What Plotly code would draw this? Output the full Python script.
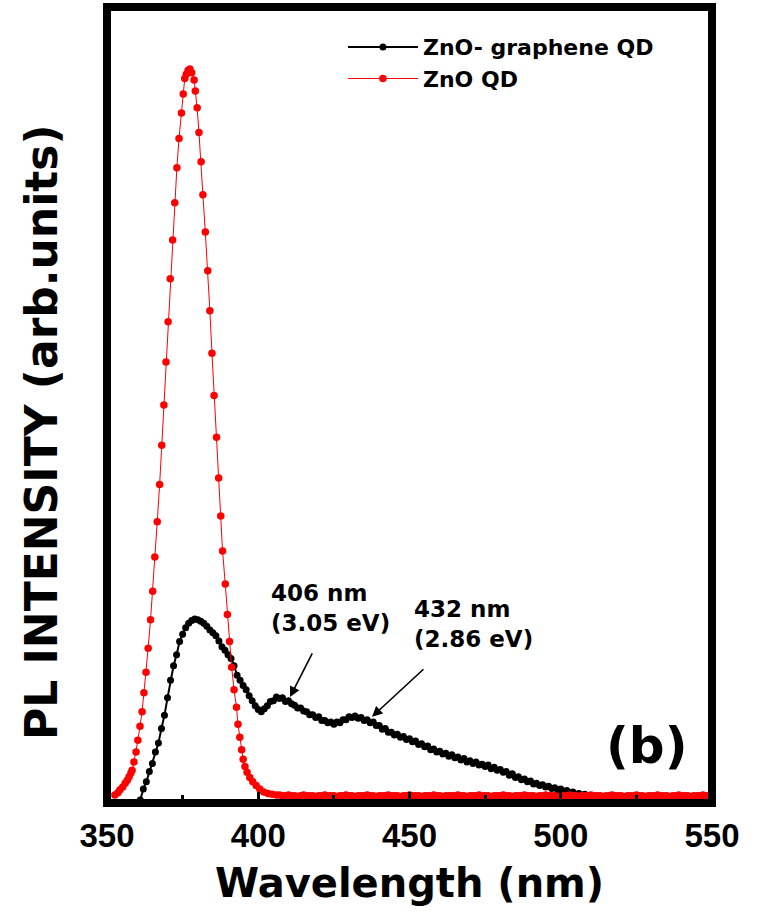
import plotly.graph_objects as go

# ---------------- ZnO QD photoluminescence ----------------
zno_peak_wl = [352.6, 353.6, 354.3, 355.2, 356.0, 356.7, 357.3, 357.9, 358.3, 358.9,
               359.6, 360.2, 360.9, 361.6, 362.2, 362.9, 363.6, 364.4, 365.1, 365.8,
               366.6, 367.4, 368.1, 368.8, 369.5, 370.2, 370.9, 371.7, 372.4, 373.1,
               373.8, 374.6, 375.2, 375.7, 376.2, 376.8, 377.4, 378.0, 378.8, 379.2,
               379.8, 380.4, 381.1, 381.7, 382.5, 383.3, 384.0, 384.7, 385.4, 386.2,
               386.9, 387.6, 388.2, 389.1, 389.8, 390.5, 391.2, 392.0, 392.8, 393.3,
               393.9, 394.5, 395.0, 395.6, 396.3, 397.2, 398.2, 399.3, 400.5, 401.8,
               403.2, 404.6, 406.0]
zno_peak_pl = [11, 14, 18, 22, 27, 31, 36, 41, 45, 56,
               70, 86, 105, 125, 151, 179, 212, 251, 290, 337,
               385, 436, 490, 545, 604, 659, 718, 771, 822, 870,
               910, 945, 971, 992, 998, 1003, 1005, 1000, 990, 975,
               952, 918, 878, 833, 782, 729, 674, 616, 558, 501,
               445, 393, 345, 300, 258, 221, 186, 155, 131, 108,
               90, 73, 60, 50, 42, 35, 29, 24, 19, 15,
               13, 12, 11]

# flat emission tail, 407-550 nm in 1 nm steps
zno_tail_wl = list(range(407, 551))
zno_tail_pl = [11, 10, 10, 11, 10, 10, 9, 10, 11, 10, 10, 10, 9, 10, 10, 11, 10, 10, 10, 9,
               10, 10, 11, 10, 10, 9, 10, 10, 10, 11, 10, 10, 9, 10, 10, 10, 11, 10, 10, 10,
               9, 10, 10, 11, 10, 10, 10, 9, 10, 10, 10, 11, 10, 10, 9, 10, 10, 10, 10, 11,
               10, 10, 9, 10, 10, 10, 11, 10, 10, 10, 9, 10, 10, 10, 11, 10, 10, 9, 10, 10,
               10, 11, 10, 10, 10, 9, 10, 10, 11, 10, 10, 10, 9, 10, 10, 10, 11, 10, 10, 9,
               10, 10, 10, 11, 10, 10, 10, 9, 10, 10, 11, 10, 10, 10, 9, 10, 10, 10, 11, 10,
               10, 9, 10, 10, 10, 11, 10, 10, 10, 9, 10, 10, 11, 10, 10, 10, 9, 10, 10, 10,
               11, 10, 10, 10]

zno_wl = zno_peak_wl + zno_tail_wl
zno_pl = zno_peak_pl + zno_tail_pl

# ---------------- ZnO-graphene QD photoluminescence (361-550 nm) ----------------
zg_wl = list(range(361, 551))
zg_pl = [4, 19, 29, 43, 54, 70, 82, 102, 120, 144,
         168, 188, 203, 221, 231, 240, 246, 250, 252, 251,
         249, 246, 242, 237, 233, 229, 222, 214, 209, 203,
         198, 188, 175, 168, 161, 155, 147, 140, 133,
         128, 125, 129, 133, 139, 140, 145, 143, 144, 139,
         140, 136, 134, 130, 130, 126, 125, 121, 121, 117,
         118, 113, 113, 110, 111, 108, 111, 110, 114, 114,
         118, 117, 119, 116, 117, 113, 114, 110, 111, 106,
         106, 101, 102, 97, 97, 93, 94, 90, 91, 87,
         88, 84, 85, 80, 81, 77, 78, 73, 74, 70,
         71, 67, 68, 64, 66, 62, 63, 59, 61, 56,
         58, 54, 56, 52, 53, 50, 52, 47, 49, 45,
         46, 42, 43, 38, 40, 35, 36, 32, 33, 29,
         30, 26, 27, 24, 25, 22, 23, 20, 21, 18,
         19, 16, 17, 14, 15, 12, 13, 11, 12, 10,
         10, 9, 8, 7, 6, 5,
         4, 4, 3, 4, 3, 3, 4, 3, 2, 3,
         3, 2, 3, 2, 3, 2, 2, 3, 2, 2,
         3, 2, 2, 2, 3, 2, 2, 2, 2, 2,
         2, 2, 2, 2, 2]

x_ticks = [350, 400, 450, 500, 550]

# ---------------- annotations ----------------
peak_labels = ["406 nm<br>(3.05 eV)", "432 nm<br>(2.86 eV)"]
peak_label_pos = [(403.6, 308), (450.8, 286)]
arrow_tips = [(410.5, 145), (437.6, 118)]
arrow_tails = [(418.1, 207), (455.1, 185)]

FONT = "DejaVu Sans"
TICK_FONT = "Liberation Sans"

fig = go.Figure()

fig.add_trace(go.Scatter(
    x=zg_wl, y=zg_pl, name="ZnO- graphene QD", mode="lines+markers",
    line=dict(color="black", width=2),
    marker=dict(color="black", size=7, symbol="circle"),
))
fig.add_trace(go.Scatter(
    x=zno_wl, y=zno_pl, name="ZnO QD", mode="lines+markers",
    line=dict(color="#ff0000", width=1),
    marker=dict(color="#ff0000", size=7.5, symbol="circle"),
))

annotations = []
for txt, (ax_, ay_) in zip(peak_labels, peak_label_pos):
    annotations.append(dict(
        x=ax_, y=ay_, xref="x", yref="y", text=txt, showarrow=False,
        xanchor="left", yanchor="top", align="left",
        font=dict(family=FONT, size=23, color="black", weight="bold"),
    ))
for (tx, ty), (sx, sy) in zip(arrow_tips, arrow_tails):
    annotations.append(dict(
        x=tx, y=ty, ax=sx, ay=sy, xref="x", yref="y", axref="x", ayref="y",
        text="", showarrow=True, arrowhead=2, arrowsize=1.3, arrowwidth=1.6,
        arrowcolor="black", standoff=0, startstandoff=0,
    ))
annotations.append(dict(
    x=528.5, y=78, xref="x", yref="y", text="(b)", showarrow=False,
    xanchor="center", yanchor="middle",
    font=dict(family=FONT, size=50, color="black", weight="bold"),
))
annotations.append(dict(
    x=-0.109, y=0.466, xref="paper", yref="paper", text="PL INTENSITY (arb.units)",
    textangle=-90, showarrow=False, xanchor="center", yanchor="middle",
    font=dict(family=FONT, size=44, color="black", weight="bold"),
))
annotations.append(dict(
    x=0.5, y=-0.1, xref="paper", yref="paper", text="Wavelength (nm)",
    showarrow=False, xanchor="center", yanchor="middle",
    font=dict(family=FONT, size=40, color="black", weight="bold"),
))

fig.update_layout(
    width=761, height=921,
    margin=dict(l=107, r=49, t=7, b=118),
    paper_bgcolor="white", plot_bgcolor="white",
    showlegend=True,
    legend=dict(
        x=0.39, y=0.976, xanchor="left", yanchor="top",
        bgcolor="rgba(0,0,0,0)", itemwidth=70,
        font=dict(family=FONT, size=22, color="black", weight="bold"),
    ),
    annotations=annotations,
    shapes=[dict(type="rect", xref="paper", yref="paper", x0=0, y0=0, x1=1, y1=1,
                 line=dict(color="black", width=8), layer="above")],
)

fig.update_xaxes(
    range=[350, 550], tickvals=x_ticks, ticks="inside", ticklen=11, tickwidth=3,
    tickcolor="black", showgrid=False, zeroline=False, showline=False,
    ticklabelstandoff=10,
    minor=dict(dtick=25, tick0=350, ticks="inside", ticklen=8, tickwidth=3,
               tickcolor="black", showgrid=False),
    tickfont=dict(family=TICK_FONT, size=33, color="black", weight="bold"),
)
fig.update_yaxes(
    range=[0, 1090], showticklabels=False, ticks="", showgrid=False,
    zeroline=False, showline=False,
)

fig.write_html("out.html")
